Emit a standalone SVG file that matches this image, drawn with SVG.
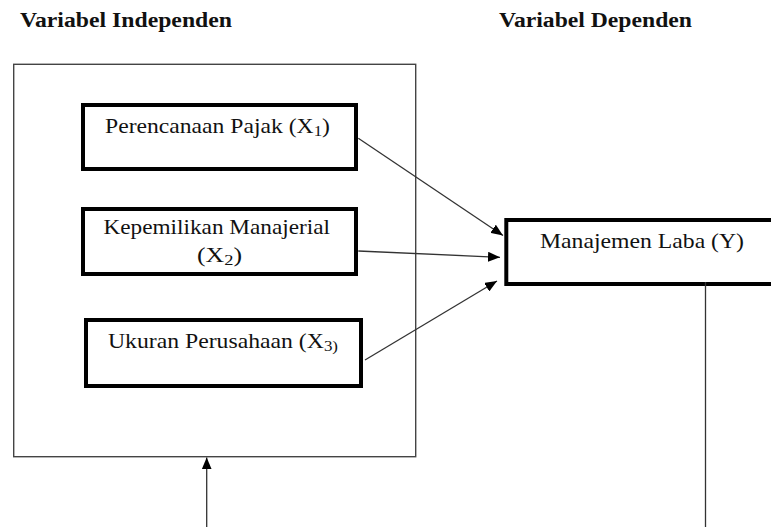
<svg xmlns="http://www.w3.org/2000/svg" width="771" height="527" viewBox="0 0 771 527">
  <defs>
    <marker id="arrow" markerUnits="userSpaceOnUse" markerWidth="12" markerHeight="10" refX="12" refY="5" orient="auto">
      <path d="M0,0 L12,5 L0,10 z" fill="#000"/>
    </marker>
    <style>
      .hdr { font-family: 'Liberation Serif', serif; font-weight: bold; font-size: 20px; fill: #111; }
      .lbl { font-family: 'Liberation Serif', serif; font-size: 21px; fill: #111; }
      .sub { font-size: 15px; }
      .box { fill: #fff; stroke: #000; stroke-width: 4; }
      .outer { fill: none; stroke: #444; stroke-width: 1.4; }
      .conn { fill: none; stroke: #333; stroke-width: 1.3; }
    </style>
  </defs>
  <rect width="771" height="527" fill="#fff"/>

  <text class="hdr" x="20" y="27" textLength="212" lengthAdjust="spacingAndGlyphs">Variabel Independen</text>
  <text class="hdr" x="499" y="27" textLength="193" lengthAdjust="spacingAndGlyphs">Variabel Dependen</text>

  <g id="independen-group">
    <rect class="outer" x="13.7" y="64.3" width="402" height="392.4"/>
  </g>

  <g id="x1">
    <rect class="box" x="83" y="105" width="273" height="64"/>
    <text class="lbl" x="105" y="133" textLength="225" lengthAdjust="spacingAndGlyphs">Perencanaan Pajak (X<tspan class="sub" dy="3">1</tspan><tspan dy="-3">)</tspan></text>
  </g>

  <g id="x2">
    <rect class="box" x="83" y="209" width="273" height="65"/>
    <text class="lbl" x="103.5" y="234" textLength="226.5" lengthAdjust="spacingAndGlyphs">Kepemilikan Manajerial</text>
    <text class="lbl" x="197" y="261.5" textLength="45" lengthAdjust="spacingAndGlyphs">(X<tspan class="sub" dy="3">2</tspan><tspan dy="-3">)</tspan></text>
  </g>

  <g id="x3">
    <rect class="box" x="86" y="320" width="275" height="66"/>
    <text class="lbl" x="108" y="348" textLength="230" lengthAdjust="spacingAndGlyphs">Ukuran Perusahaan (X<tspan class="sub" dy="3">3)</tspan></text>
  </g>

  <g id="y">
    <rect class="box" x="506.3" y="220" width="300" height="64"/>
    <text class="lbl" x="540" y="248" textLength="204" lengthAdjust="spacingAndGlyphs">Manajemen Laba (Y)</text>
  </g>

  <g id="connectors">
    <line class="conn" x1="358.3" y1="138.3" x2="503" y2="235.5" marker-end="url(#arrow)"/>
    <line class="conn" x1="358.3" y1="251" x2="500" y2="257.3" marker-end="url(#arrow)"/>
    <line class="conn" x1="365" y1="360" x2="497" y2="281" marker-end="url(#arrow)"/>
    <line class="conn" x1="206.7" y1="527" x2="206.7" y2="457.4" marker-end="url(#arrow)"/>
    <line class="conn" x1="705.5" y1="282" x2="705.5" y2="527"/>
  </g>
</svg>
